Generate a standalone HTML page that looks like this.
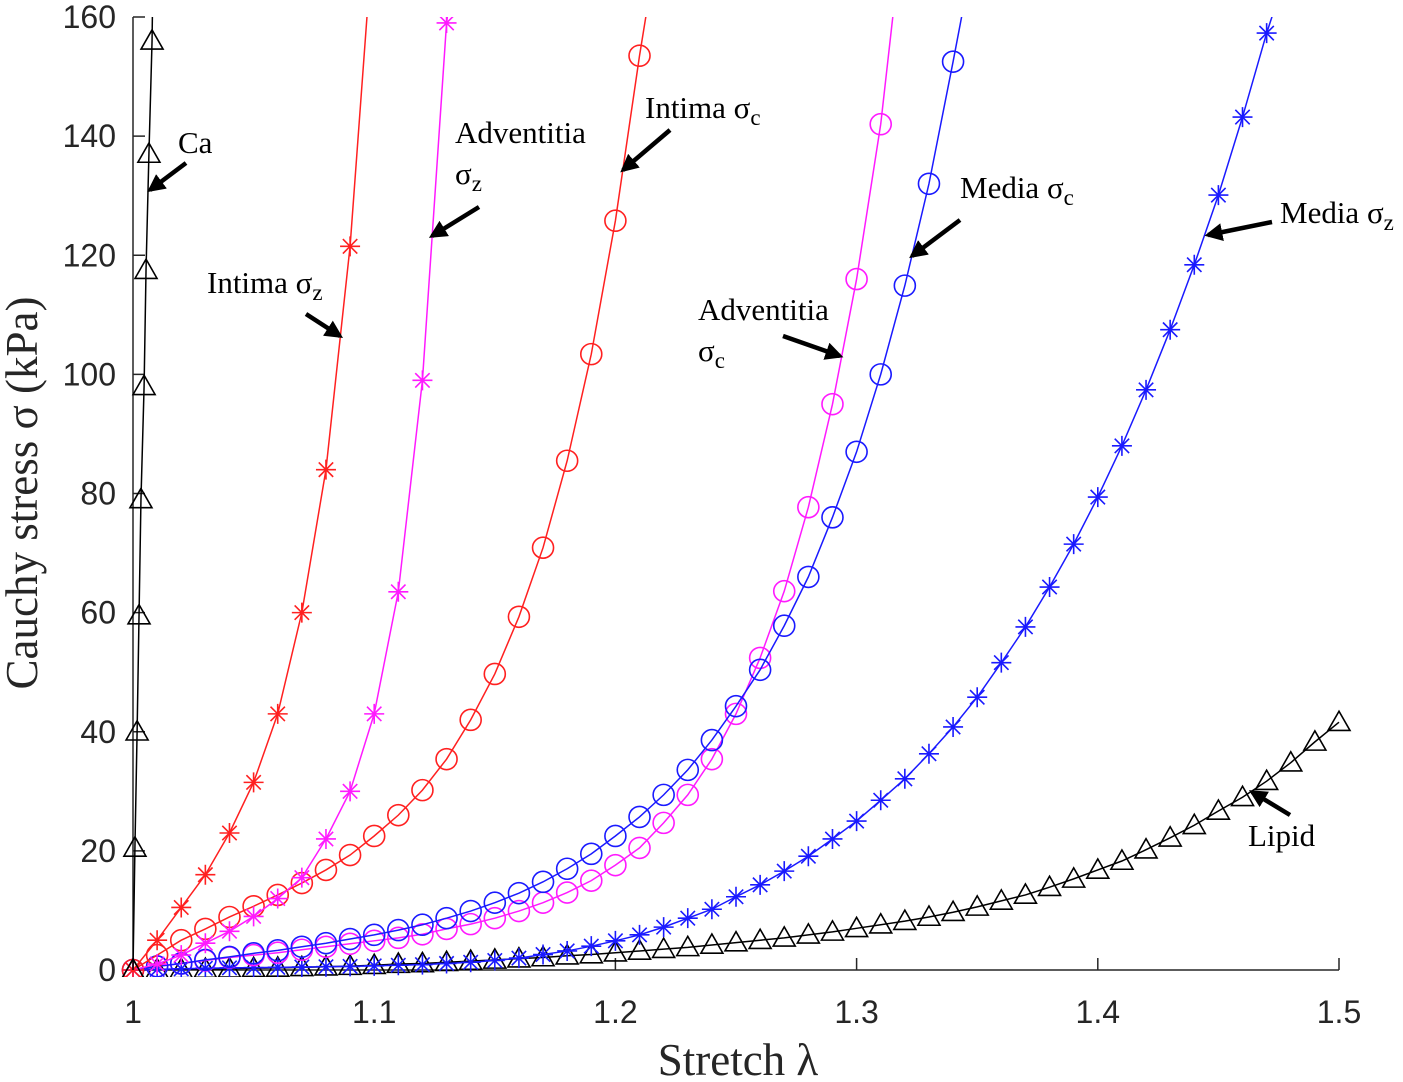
<!DOCTYPE html>
<html><head><meta charset="utf-8">
<style>
html,body{margin:0;padding:0;background:#fff;}
svg{display:block;}
.tick{font-family:"Liberation Sans",sans-serif;font-size:32px;fill:#262626;}
.ann{font-family:"Liberation Serif",serif;font-size:31px;fill:#000;}
.ttl{font-family:"Liberation Serif",serif;font-size:45px;fill:#262626;}
</style></head>
<body>
<svg id="chart" width="1403" height="1082" viewBox="0 0 1403 1082" xmlns="http://www.w3.org/2000/svg">
<defs>
<clipPath id="plotclip"><rect x="110" y="17" width="1280" height="960"/></clipPath>
<marker id="ah" viewBox="0 0 10 10" refX="8" refY="5" markerWidth="4" markerHeight="4" orient="auto"><path d="M0,0 L10,5 L0,10 z" fill="#000"/></marker>
</defs>
<g id="axes"></g>
<g id="series" clip-path="url(#plotclip)"></g>
<g id="annotations"></g>
</svg>
<script>
// ---- data ----
const xTicks = [1, 1.1, 1.2, 1.3, 1.4, 1.5];
const xTickLabels = ["1", "1.1", "1.2", "1.3", "1.4", "1.5"];
const yTicks = [0, 20, 40, 60, 80, 100, 120, 140, 160];
const yTickLabels = ["0", "20", "40", "60", "80", "100", "120", "140", "160"];

const caX = [1, 1.0008, 1.0017, 1.0025, 1.0033, 1.0046, 1.0054, 1.0066, 1.0079];
const caY = [0, 20.5, 40, 59.5, 79, 98, 117.5, 137, 156];
const caExtX = [1.0081]; const caExtY = [162];

const intimaZX = [1.00,1.01,1.02,1.03,1.04,1.05,1.06,1.07,1.08,1.09];
const intimaZY = [0,5,10.5,16,23,31.5,43,60,84,121.5];
const intimaZExtX = [1.097]; const intimaZExtY = [160];

const advZX = [1.00,1.01,1.02,1.03,1.04,1.05,1.06,1.07,1.08,1.09,1.10,1.11,1.12,1.13];
const advZY = [0,1,2.5,4.5,6.5,9,12,15.5,22,30,43,63.5,99,159];
const advZExtX = [1.131]; const advZExtY = [162];

const intimaCX = [1.00,1.01,1.02,1.03,1.04,1.05,1.06,1.07,1.08,1.09,1.10,1.11,1.12,1.13,1.14,1.15,1.16,1.17,1.18,1.19,1.20,1.21];
const intimaCY = [0,2.5,5,6.9,8.9,10.7,12.6,14.6,16.8,19.3,22.5,26,30.2,35.4,42,49.7,59.3,70.9,85.5,103.4,125.8,153.5];
const intimaCExtX = [1.213]; const intimaCExtY = [161];

const advCX = [1.00,1.01,1.02,1.03,1.04,1.05,1.06,1.07,1.08,1.09,1.10,1.11,1.12,1.13,1.14,1.15,1.16,1.17,1.18,1.19,1.20,1.21,1.22,1.23,1.24,1.25,1.26,1.27,1.28,1.29,1.30,1.31];
const advCY = [0,0.6,1.1,1.6,2.1,2.5,2.9,3.4,3.9,4.4,4.9,5.4,6,6.9,7.7,8.7,9.9,11.3,13,15,17.6,20.5,24.7,29.4,35.4,43,52.4,63.6,77.7,95,116,142];
const advCExtX = [1.315]; const advCExtY = [160];

const mediaCX = [1.00,1.01,1.02,1.03,1.04,1.05,1.06,1.07,1.08,1.09,1.10,1.11,1.12,1.13,1.14,1.15,1.16,1.17,1.18,1.19,1.20,1.21,1.22,1.23,1.24,1.25,1.26,1.27,1.28,1.29,1.30,1.31,1.32,1.33,1.34];
const mediaCY = [0,0.6,1.1,1.7,2.2,2.8,3.3,3.9,4.5,5.2,5.9,6.7,7.6,8.7,9.9,11.3,12.9,14.8,17,19.5,22.5,25.7,29.4,33.6,38.6,44.3,50.4,57.8,66,76,87,100,114.9,132,152.5];
const mediaCExtX = [1.344]; const mediaCExtY = [161];

const mediaZX = [1.00,1.01,1.02,1.03,1.04,1.05,1.06,1.07,1.08,1.09,1.10,1.11,1.12,1.13,1.14,1.15,1.16,1.17,1.18,1.19,1.20,1.21,1.22,1.23,1.24,1.25,1.26,1.27,1.28,1.29,1.30,1.31,1.32,1.33,1.34,1.35,1.36,1.37,1.38,1.39,1.40,1.41,1.42,1.43,1.44,1.45,1.46,1.47];
const mediaZY = [0,0.1,0.2,0.3,0.35,0.4,0.45,0.5,0.55,0.6,0.7,0.8,0.9,1.1,1.3,1.6,2,2.6,3.2,4,4.9,5.9,7.2,8.7,10.2,12.3,14.3,16.6,19.1,22,25,28.5,32.1,36.3,40.8,45.8,51.6,57.6,64.3,71.5,79.4,88,97.4,107.5,118.4,130.1,143.2,157.3];
const mediaZExtX = [1.473]; const mediaZExtY = [161];

const lipidX = [1.00,1.01,1.02,1.03,1.04,1.05,1.06,1.07,1.08,1.09,1.10,1.11,1.12,1.13,1.14,1.15,1.16,1.17,1.18,1.19,1.20,1.21,1.22,1.23,1.24,1.25,1.26,1.27,1.28,1.29,1.30,1.31,1.32,1.33,1.34,1.35,1.36,1.37,1.38,1.39,1.40,1.41,1.42,1.43,1.44,1.45,1.46,1.47,1.48,1.49,1.50];
const lipidY = [0,0.05,0.1,0.15,0.2,0.3,0.35,0.45,0.55,0.65,0.8,1,1.1,1.3,1.5,1.7,1.9,2.1,2.4,2.6,2.9,3.2,3.5,3.8,4.2,4.6,5,5.4,5.9,6.4,7,7.6,8.2,8.9,9.7,10.6,11.6,12.6,13.9,15.3,16.8,18.3,20.2,22.2,24.3,26.7,29,31.7,34.8,38.3,41.6];

// ---- scales ----
const X0 = 133, X1 = 1339, Y0 = 970, Y1 = 17;
function sx(v){ return X0 + (v - 1) / 0.5 * (X1 - X0); }
function sy(v){ return Y0 - v / 160 * (Y0 - Y1); }

const NS = "http://www.w3.org/2000/svg";
function mk(tag, attrs, parent){
  const e = document.createElementNS(NS, tag);
  for (const k in attrs) e.setAttribute(k, attrs[k]);
  parent.appendChild(e);
  return e;
}
const axes = document.getElementById('axes');
const series = document.getElementById('series');
const ann = document.getElementById('annotations');

const xl = mk('line', {x1:X0, y1:Y0, x2:X1, y2:Y0, stroke:'#262626', 'stroke-width':1.5}, axes);


const yl = mk('line', {x1:X0, y1:Y0, x2:X0, y2:Y1, stroke:'#262626', 'stroke-width':1.5}, axes);



xTicks.forEach((t, i) => {
  const tk = mk('line', {x1:sx(t), y1:Y0, x2:sx(t), y2:Y0-12, stroke:'#262626', 'stroke-width':1.5}, axes);
  
  
  const tx = mk('text', {x:sx(t), y:Y0+53, 'text-anchor':'middle', class:'tick'}, axes);
  tx.textContent = xTickLabels[i];
  
  
});
yTicks.forEach((t, i) => {
  const tk = mk('line', {x1:X0, y1:sy(t), x2:X0+12, y2:sy(t), stroke:'#262626', 'stroke-width':1.5}, axes);
  
  
  const tx = mk('text', {x:116, y:sy(t)+11, 'text-anchor':'end', class:'tick'}, axes);
  tx.textContent = yTickLabels[i];
  
  
});
const xt = mk('text', {x:738, y:1075, 'text-anchor':'middle', class:'ttl'}, axes);
xt.textContent = 'Stretch λ';


const yt = mk('text', {x:0, y:0, 'text-anchor':'middle', class:'ttl', transform:'translate(37,493) rotate(-90)'}, axes);
yt.textContent = 'Cauchy stress σ (kPa)';



function marker(type, cx, cy, color, g){
  let e;
  if (type === 'circle') {
    e = mk('circle', {cx:cx, cy:cy, r:10.5, fill:'none', stroke:color, 'stroke-width':1.6}, g);
  } else if (type === 'tri') {
    const r = 11;
    e = mk('polygon', {points:`${cx},${cy-r} ${cx-r},${cy+r*0.75} ${cx+r},${cy+r*0.75}`, fill:'none', stroke:color, 'stroke-width':1.6}, g);
  } else {
    const r = 10, d = r*0.72;
    e = mk('path', {d:`M${cx-r},${cy}H${cx+r}M${cx},${cy-r}V${cy+r}M${cx-d},${cy-d}L${cx+d},${cy+d}M${cx-d},${cy+d}L${cx+d},${cy-d}`, stroke:color, 'stroke-width':1.6, fill:'none'}, g);
  }
  
  
}
function drawSeries(name, xs, ys, exX, exY, color, type){
  const g = mk('g', {}, series);
  
  
  const pts = xs.map((v,i)=>[sx(v), sy(ys[i])]).concat(exX.map((v,i)=>[sx(v), sy(exY[i])]));
  const p = mk('polyline', {points: pts.map(p=>p.join(',')).join(' '), fill:'none', stroke:color, 'stroke-width':1.5}, g);
  
  
  xs.forEach((v,i)=>marker(type, sx(v), sy(ys[i]), color, g));
}
const RED = '#ff2020', MAG = '#ff1aff', BLUE = '#1a1aff', BLK = '#000';
drawSeries('lipid-series', lipidX, lipidY, [], [], BLK, 'tri');
drawSeries('media-z-series', mediaZX, mediaZY, mediaZExtX, mediaZExtY, BLUE, 'star');
drawSeries('adventitia-c-series', advCX, advCY, advCExtX, advCExtY, MAG, 'circle');
drawSeries('media-c-series', mediaCX, mediaCY, mediaCExtX, mediaCExtY, BLUE, 'circle');
drawSeries('intima-c-series', intimaCX, intimaCY, intimaCExtX, intimaCExtY, RED, 'circle');
drawSeries('adventitia-z-series', advZX, advZY, advZExtX, advZExtY, MAG, 'star');
drawSeries('intima-z-series', intimaZX, intimaZY, intimaZExtX, intimaZExtY, RED, 'star');
drawSeries('ca-series', caX, caY, caExtX, caExtY, BLK, 'tri');

function arrow(name, x1, y1, x2, y2){
  const a = mk('line', {x1:x1, y1:y1, x2:x2, y2:y2, stroke:'#000', 'stroke-width':4.5, 'marker-end':'url(#ah)'}, ann);
  
  
}
function label(name, x, y, main, sub){
  const t = mk('text', {x:x, y:y, class:'ann'}, ann);
  
  
  t.appendChild(document.createTextNode(main));
  if (sub) {
    const s = mk('tspan', {'font-size':'23', dy:'7'}, t);
    s.textContent = sub;
  }
}
arrow('ca-arrow', 186, 163, 150, 190);
label('ca-label', 178, 153, 'Ca');
arrow('intima-z-arrow', 306, 314, 340, 336);
label('intima-z-label', 207, 293, 'Intima σ', 'z');
arrow('adventitia-z-arrow', 479, 207, 432, 236);
label('adventitia-z-label-1', 455, 143, 'Adventitia');
label('adventitia-z-label-2', 455, 184, 'σ', 'z');
arrow('intima-c-arrow', 670, 130, 623, 170);
label('intima-c-label', 645, 118, 'Intima σ', 'c');
arrow('adventitia-c-arrow', 783, 336, 840, 356);
label('adventitia-c-label-1', 698, 320, 'Adventitia');
label('adventitia-c-label-2', 698, 361, 'σ', 'c');
arrow('media-c-arrow', 960, 220, 912, 256);
label('media-c-label', 960, 198, 'Media σ', 'c');
arrow('media-z-arrow', 1272, 222, 1208, 235);
label('media-z-label', 1280, 223, 'Media σ', 'z');
arrow('lipid-arrow', 1290, 815, 1252, 792);
label('lipid-label', 1248, 846, 'Lipid');
</script>
</body></html>
